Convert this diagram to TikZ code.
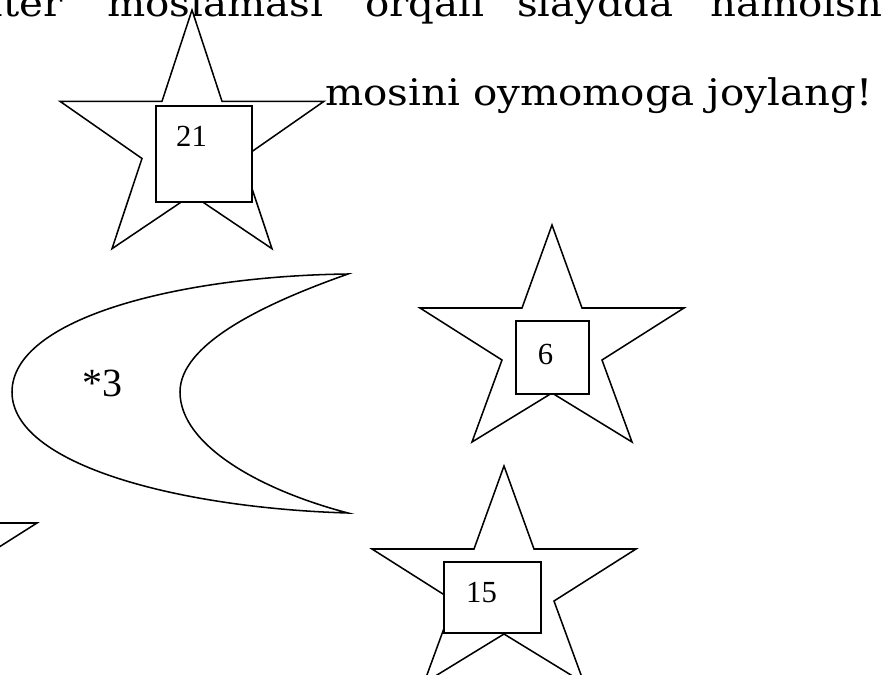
\documentclass[tikz,border=0pt]{standalone}
\usepackage{fontspec}
\setmainfont{Liberation Serif}
\newfontfamily\slabfont[FakeStretch=1.1]{DejaVu Serif}
\usetikzlibrary{positioning}
\tikzset{
  starln/.style={line width=1.15pt, fill=white, line join=miter},
  moonln/.style={line width=1.15pt, fill=white},
  numbox/.style={draw, line width=1.15pt, fill=white, inner sep=0pt},
  numtxt/.style={font=\fontsize{23}{23}\selectfont, inner sep=0pt},
  slabtxt/.style={font=\slabfont\fontsize{27.5}{30}\selectfont, inner sep=0pt},
}
\tikzset{pics/yulduz/.style={code={
  \draw[starln] (0,0) -- (30,83) -- (132,83) -- (50,135) -- (80,217) -- (0,168)
    -- (-80,217) -- (-50,135) -- (-132,83) -- (-30,83) -- cycle;}}}

\begin{document}
\begin{tikzpicture}[x=0.75pt, y=-0.75pt]
    \useasboundingbox (0,0) rectangle (883,675);
    \clip (0,0) rectangle (883,675);
    % ----- text lines -----
    \node[slabtxt, anchor=base east] (w1) at (63,16) {kompyuter};
    \node[slabtxt, anchor=base west] (w2) at (107,16) {moslamasi};
    \node[slabtxt, anchor=base west] (w3) at (365,16) {orqali};
    \node[slabtxt, anchor=base west] (w4) at (517,16) {slaydda};
    \node[slabtxt, anchor=base west] (w5) at (710,16) {namoish};
    \node[slabtxt, anchor=base west] (qator2) at (325,105) {mosini oymomoga joylang!};
    % ----- stars -----
    \pic[yscale=1.1] at (192,10) {yulduz};
    \pic at (552,225) {yulduz};
    \pic at (504,466) {yulduz};
    \pic at (-95,440) {yulduz};
    % ----- moon -----
    \draw[moonln] (348,274) .. controls (180,276) and (12,318) .. (12,392)
      .. controls (12,465) and (180,508) .. (348,513)
      .. controls (260,490) and (180,445) .. (180,392)
      .. controls (180,345) and (260,305) .. (348,274) -- cycle;
    \node[font=\fontsize{30}{30}\selectfont, inner sep=0pt] (oy) at (102,383.5) {*3};
    % ----- number boxes -----
    \node[numbox, minimum width=72pt, minimum height=72pt] (box21) at (204,154) {};
    \node[numtxt] (n21) at (191.5,136.5) {21};
    \node[numbox, minimum width=54.75pt, minimum height=54.75pt] (box6) at (552.5,357.5) {};
    \node[numtxt] (n6) at (545.5,354) {6};
    \node[numbox, minimum width=72.75pt, minimum height=53.25pt] (box15) at (492.5,597.5) {};
    \node[numtxt] (n15) at (481.5,592.5) {15};
\end{tikzpicture}
\end{document}
